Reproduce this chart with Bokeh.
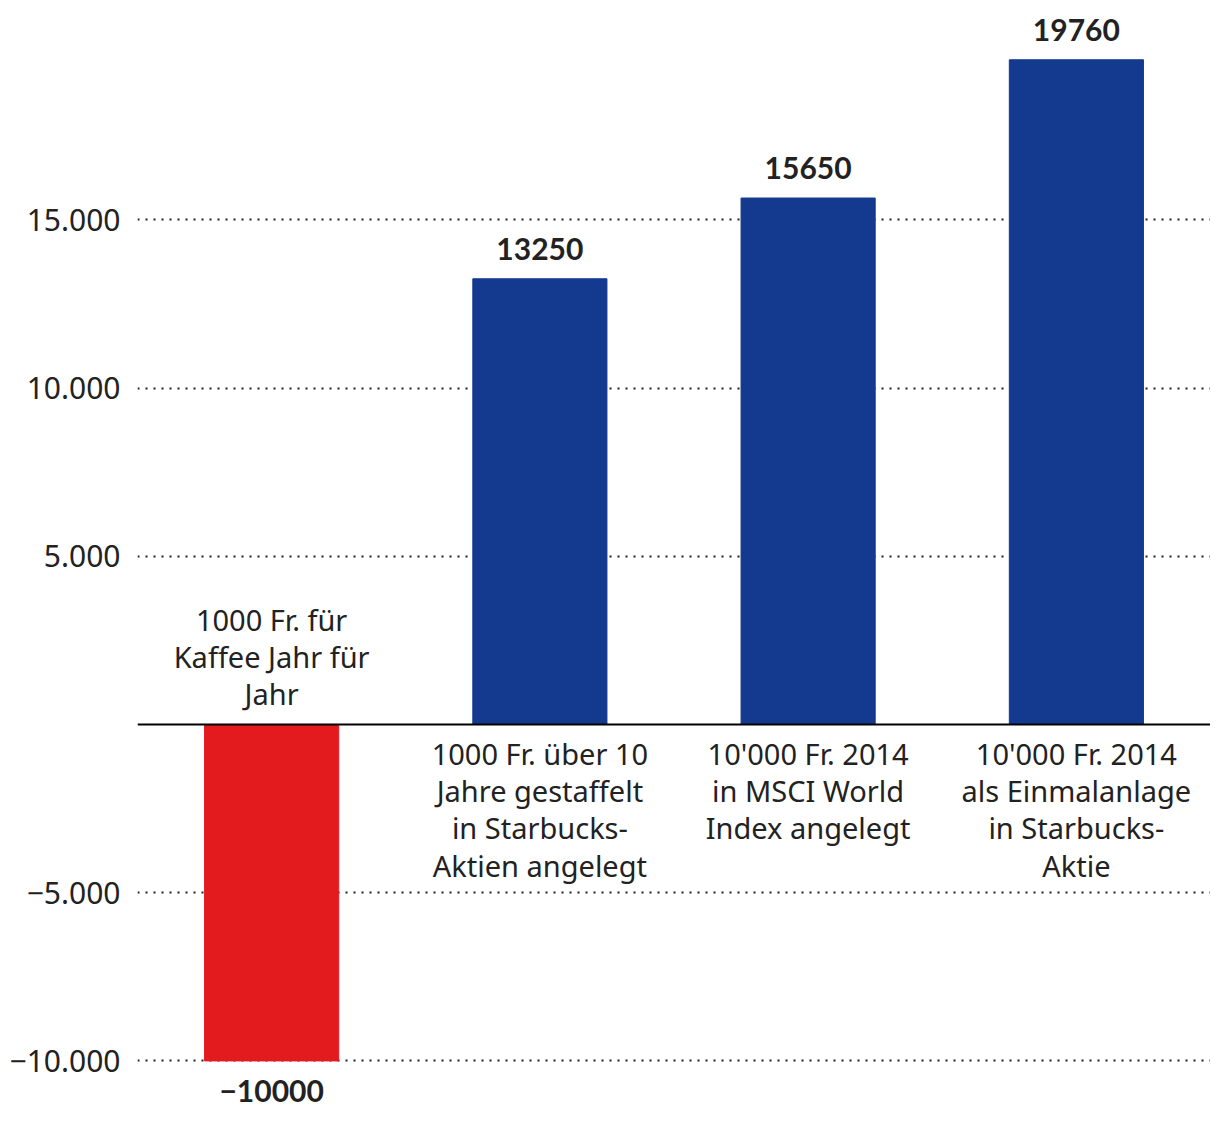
from bokeh.plotting import figure
from bokeh.models import Range1d, FixedTicker, CustomJSTickFormatter, Span, ColumnDataSource
from bokeh.core.properties import value
from bokeh.embed import file_html
from bokeh.resources import INLINE

categories = [
    "1000 Fr. für\nKaffee Jahr für\nJahr",
    "1000 Fr. über 10\nJahre gestaffelt\nin Starbucks-\nAktien angelegt",
    "10'000 Fr. 2014\nin MSCI World\nIndex angelegt",
    "10'000 Fr. 2014\nals Einmalanlage\nin Starbucks-\nAktie",
]
values = [-10000, 13250, 15650, 19760]
value_labels = ["\u221210000", "13250", "15650", "19760"]
y_ticks = [-10000, -5000, 5000, 10000, 15000]

BLUE = "#143A8F"
RED = "#E31B1E"
TEXT = "#222222"

xs = [i + 0.5 for i in range(len(values))]
colors = [RED if v < 0 else BLUE for v in values]

p = figure(width=1210, height=1118, output_backend="svg", toolbar_location=None,
           x_range=Range1d(0, 4), y_range=Range1d(-11712, 21284),
           x_axis_location=None, min_border_left=137, min_border_right=0,
           min_border_top=8, min_border_bottom=0)
p.outline_line_color = None
p.xgrid.visible = False

p.yaxis.ticker = FixedTicker(ticks=y_ticks)
p.yaxis.formatter = CustomJSTickFormatter(code="""
const s = Math.abs(tick).toFixed(0).replace(/\\B(?=(\\d{3})+(?!\\d))/g, '.');
return (tick < 0 ? '\\u2212' : '') + s;
""")
p.yaxis.axis_line_color = None
p.yaxis.major_tick_line_color = None
p.yaxis.minor_tick_line_color = None
p.yaxis.major_label_text_font = "Noto Sans"
p.yaxis.major_label_text_font_size = "30px"
p.yaxis.major_label_text_color = TEXT
p.yaxis.major_label_standoff = 11

p.ygrid.grid_line_color = "#222222"
p.ygrid.grid_line_dash = "2 6"
p.ygrid.grid_line_width = 2

src = ColumnDataSource(dict(x=xs, top=values, color=colors))
p.vbar(x="x", top="top", bottom=0, width=0.5, color="color", source=src)

p.add_layout(Span(location=0, dimension="width", line_color="black", line_width=2))

pos_idx = [i for i, v in enumerate(values) if v >= 0]
neg_idx = [i for i, v in enumerate(values) if v < 0]

# category labels
p.text(x=[xs[i] for i in pos_idx], y=[0] * len(pos_idx), text=[categories[i] for i in pos_idx],
       text_align="center", text_baseline="top", y_offset=9,
       text_font=value("Noto Sans"), text_font_size="29px", text_color=TEXT, text_line_height=0.96)
p.text(x=[xs[i] for i in neg_idx], y=[0] * len(neg_idx), text=[categories[i] for i in neg_idx],
       text_align="center", text_baseline="bottom", y_offset=-11,
       text_font=value("Noto Sans"), text_font_size="29px", text_color=TEXT, text_line_height=0.96)

# value labels
p.text(x=[xs[i] for i in pos_idx], y=[values[i] for i in pos_idx], text=[value_labels[i] for i in pos_idx],
       text_align="center", text_baseline="bottom", y_offset=-19,
       text_font=value("Lato"), text_font_style="bold", text_font_size="30px", text_color=TEXT)
p.text(x=[xs[i] for i in neg_idx], y=[values[i] for i in neg_idx], text=[value_labels[i] for i in neg_idx],
       text_align="center", text_baseline="top", y_offset=19,
       text_font=value("Lato"), text_font_style="bold", text_font_size="30px", text_color=TEXT)

open("out.html", "w").write(file_html(p, INLINE))
